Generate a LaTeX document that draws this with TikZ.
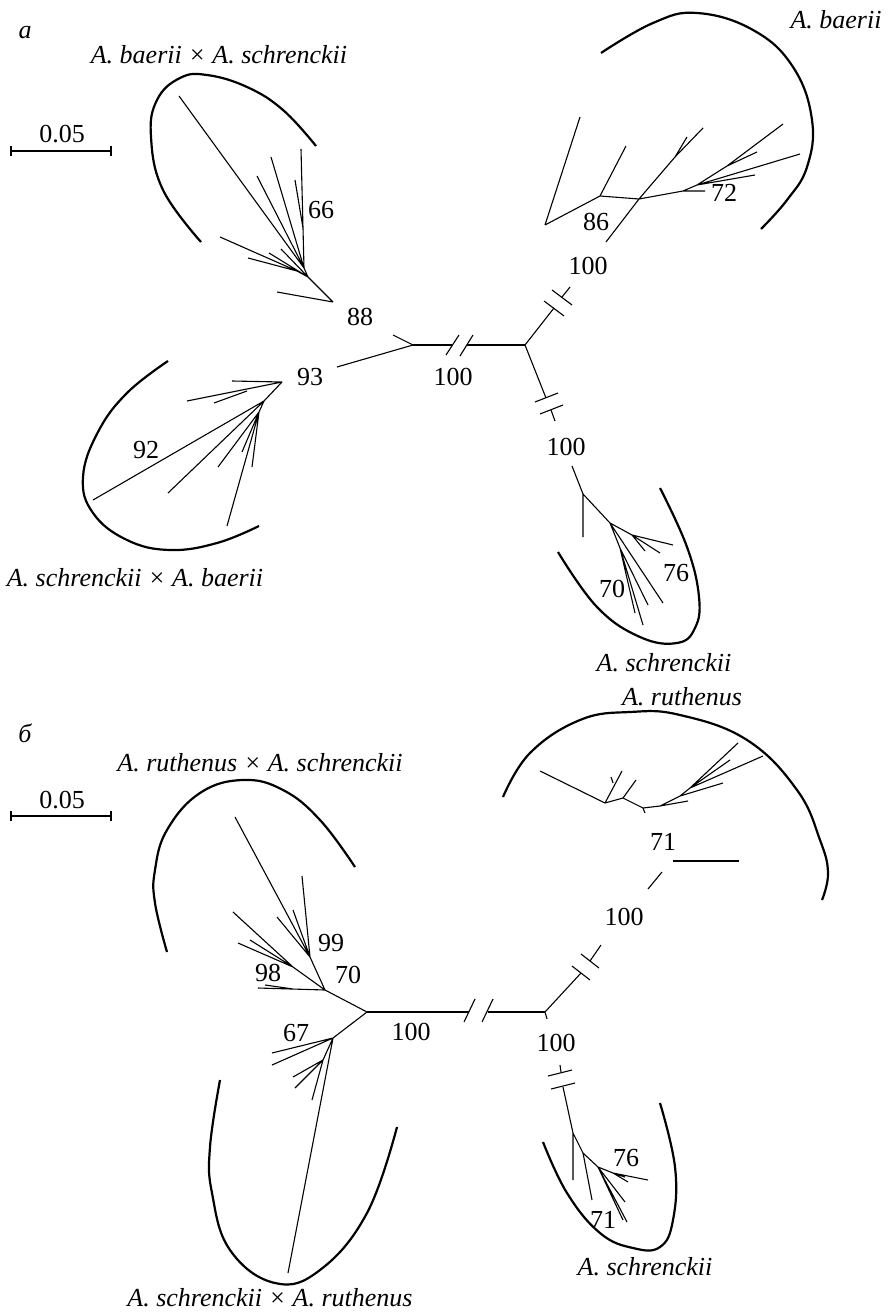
\documentclass[tikz,border=0pt]{standalone}
\usepackage{fontspec}
\setmainfont{Liberation Serif}
\begin{document}
\begin{tikzpicture}[x=1pt,y=-1pt,
  br/.style={line width=1.1pt},
  brk/.style={line width=1.1pt},
  hull/.style={line width=2.2pt},
  lab/.style={font=\fontsize{26}{30}\selectfont\itshape, inner sep=0pt},
  num/.style={font=\fontsize{26}{30}\selectfont, inner sep=0pt}]
\useasboundingbox (0,0) rectangle (890,1313);

% ================= PANEL a =================
\node[lab] (pa) at (25,33) {а};
\node[lab] (la1) at (219,55) {A. baerii × A. schrenckii};
\node[lab] (la2) at (836,20) {A. baerii};
\node[lab] (la3) at (135,578) {A. schrenckii × A. baerii};
\node[lab] (la4) at (664,663) {A. schrenckii};

% scale bar
\coordinate (sa1) at (11,151); \coordinate (sa2) at (111,151);
\draw[br] (sa1) -- (sa2);
\draw[br] (11,146) -- (11,156) (111,146) -- (111,156);
\node[num] (sca) at (62,134) {0.05};

% central part
\coordinate (aL) at (413,345); \coordinate (aC) at (525,345);
\coordinate (aH1) at (452,345); \coordinate (aH2) at (467,345);
\draw[br] (aL) -- (aH1) (aH2) -- (aC);
\draw[brk] (446,355) -- (459,335) (460,356) -- (473,335);
\node[num] (n100a) at (453,377) {100};

\coordinate (aLs) at (393,335);
\draw[br] (aL) -- (aLs);
\node[num] (n88) at (360,317) {88};
\coordinate (aLd) at (337,367);
\draw[br] (aL) -- (aLd);
\node[num] (n93) at (310,377) {93};

% upper right branch
\coordinate (aT1) at (554,308); \coordinate (aT2) at (562,297);
\coordinate (aU) at (570,287);
\draw[br] (aC) -- (aT1) (aT2) -- (aU);
\draw[brk] (544,301) -- (564,316) (552,290) -- (572,305);
\node[num] (n100b) at (588,266) {100};

% lower branch
\coordinate (aT3) at (546,398); \coordinate (aT4) at (551,410);
\coordinate (aD) at (555,421);
\draw[br] (aC) -- (aT3) (aT4) -- (aD);
\draw[brk] (535,402) -- (558,393) (540,414) -- (563,405);
\node[num] (n100c) at (566,447) {100};

% --- baerii x schrenckii clade
\coordinate (R1) at (333,302);
\coordinate (N1) at (308,277); \coordinate (Na) at (297,271);
\coordinate (N2) at (304,268); \coordinate (N3) at (303,228);
\coordinate (l1) at (277,292); \coordinate (l2) at (220,237);
\coordinate (l3) at (248,258); \coordinate (l4) at (269,253);
\coordinate (l5) at (281,249); \coordinate (l6) at (179,96);
\coordinate (l7) at (257,176); \coordinate (l8) at (271,157);
\coordinate (l9) at (295,180); \coordinate (l10) at (301,149);
\draw[br] (R1) -- (l1) (R1) -- (N1) (N1) -- (Na) (Na) -- (l2) (Na) -- (l3)
  (N1) -- (l4) (N1) -- (l5) (N1) -- (N2) (N2) -- (l6) (N2) -- (l7) (N2) -- (l8)
  (N2) -- (N3) (N3) -- (l9) (N3) -- (l10);
\node[num] (n66) at (321,210) {66};
\draw[hull] plot[smooth,tension=0.7] coordinates {(201,242) (163,190) (151,137) (157,100) (180,78) (207,75) (247,87) (283,110) (316,146)};

% --- baerii clade
\coordinate (bA) at (606,242); \coordinate (B2) at (639,199);
\coordinate (B1) at (600,196); \coordinate (B0) at (545,225);
\coordinate (B3) at (675,157); \coordinate (B4) at (683,191);
\coordinate (B5) at (697,185); \coordinate (B6) at (727,166);
\coordinate (m1) at (580,117); \coordinate (m2) at (626,146);
\coordinate (m3) at (703,128); \coordinate (m4) at (687,137);
\coordinate (m5) at (705,191); \coordinate (m6) at (755,175);
\coordinate (m7) at (800,154); \coordinate (m8) at (783,124);
\coordinate (m9) at (757,152);
\draw[br] (bA) -- (B2) (B2) -- (B1) (B1) -- (B0) (B0) -- (m1) (B1) -- (m2)
  (B2) -- (B3) (B3) -- (m3) (B3) -- (m4) (B2) -- (B4) (B4) -- (m5) (B4) -- (B5)
  (B5) -- (m6) (B5) -- (m7) (B5) -- (B6) (B6) -- (m8) (B6) -- (m9);
\node[num] (n86) at (596,222) {86};
\node[num] (n72) at (724,193) {72};
\draw[hull] plot[smooth,tension=0.7] coordinates {(601,53) (653,23) (697,13) (753,30) (793,67) (812,120) (807,167) (787,200) (761,229)};

% --- schrenckii x baerii clade
\coordinate (R2) at (282,382); \coordinate (Rb) at (247,391);
\coordinate (R3) at (264,401); \coordinate (Rc) at (259,412);
\coordinate (k1) at (232,381); \coordinate (k2) at (187,401);
\coordinate (k3) at (214,403); \coordinate (k4) at (93,500);
\coordinate (k5) at (168,493); \coordinate (k6) at (218,467);
\coordinate (k7) at (242,452); \coordinate (k8) at (252,467);
\coordinate (k9) at (227,526);
\draw[br] (R2) -- (k1) (R2) -- (k2) (Rb) -- (k3) (R2) -- (R3)
  (R3) -- (k4) (R3) -- (k5) (R3) -- (Rc) (Rc) -- (k6) (Rc) -- (k7) (Rc) -- (k8) (Rc) -- (k9);
\node[num] (n92) at (146,450) {92};
\draw[hull] plot[smooth,tension=0.7] coordinates {(168,361) (127,393) (98,432) (83,477) (93,513) (127,540) (170,550) (217,543) (259,526)};

% --- schrenckii clade (a)
\coordinate (aD2) at (572,466); \coordinate (S1) at (583,494);
\coordinate (S2) at (610,523); \coordinate (S3) at (632,535);
\coordinate (S4) at (620,548);
\coordinate (q1) at (583,537); \coordinate (q2) at (673,545);
\coordinate (q3) at (660,553); \coordinate (q4) at (645,551);
\coordinate (q5) at (663,603); \coordinate (q6) at (648,605);
\coordinate (q7) at (643,625); \coordinate (q8) at (635,613);
\draw[br] (aD2) -- (S1) (S1) -- (q1) (S1) -- (S2) (S2) -- (S3) (S3) -- (q2)
  (S3) -- (q3) (S3) -- (q4) (S2) -- (S4) (S2) -- (q5) (S4) -- (q6) (S4) -- (q7) (S4) -- (q8);
\node[num] (n76a) at (676,573) {76};
\node[num] (n70a) at (612,589) {70};
\draw[hull] plot[smooth,tension=0.7] coordinates {(558,552) (597,607) (640,637) (677,643) (695,628) (699,597) (687,547) (660,488)};

% ================= PANEL b =================
\node[lab] (pb) at (25,733) {б};
\node[lab] (lb1) at (260,763) {A. ruthenus × A. schrenckii};
\node[lab] (lb2) at (682,697) {A. ruthenus};
\node[lab] (lb3) at (270,1298) {A. schrenckii × A. ruthenus};
\node[lab] (lb4) at (645,1267) {A. schrenckii};

\coordinate (sb1) at (11,816); \coordinate (sb2) at (111,816);
\draw[br] (sb1) -- (sb2);
\draw[br] (11,811) -- (11,821) (111,811) -- (111,821);
\node[num] (scb) at (62,800) {0.05};

% central part
\coordinate (bL) at (367,1012); \coordinate (bC) at (545,1012);
\coordinate (bH1) at (469,1012); \coordinate (bH2) at (488,1012);
\draw[br] (bL) -- (bH1) (bH2) -- (bC);
\draw[brk] (464,1022) -- (475,999) (482,1022) -- (493,999);
\node[num] (n100d) at (411,1032) {100};

% up branch
\coordinate (bT1) at (581,973); \coordinate (bT2) at (590,961);
\coordinate (bU) at (601,945);
\draw[br] (bC) -- (bT1) (bT2) -- (bU);
\draw[brk] (572,966) -- (590,980) (581,954) -- (599,968);
\node[num] (n100e) at (624,917) {100};
\coordinate (bV0) at (648,889); \coordinate (bV) at (662,872);
\draw[br] (bV0) -- (bV);
\coordinate (bh1) at (673,861); \coordinate (bh2) at (739,861);
\draw[br] (bh1) -- (bh2);
\node[num] (n71a) at (663,842) {71};

% ruthenus clade
\coordinate (U1) at (605,803); \coordinate (U2) at (623,798);
\coordinate (U3) at (643,808); \coordinate (U3s) at (645,813);
\coordinate (U4) at (660,806); \coordinate (U5) at (680,796);
\coordinate (U6) at (690,788); \coordinate (Ub) at (613,783);
\coordinate (r1) at (540,771); \coordinate (r2) at (622,771);
\coordinate (r2b) at (611,777);
\coordinate (r3) at (636,780); \coordinate (r4) at (688,801);
\coordinate (r5) at (723,783); \coordinate (r6) at (738,743);
\coordinate (r7) at (730,760); \coordinate (r8) at (763,756);
\draw[br] (U1) -- (r1) (U1) -- (r2) (Ub) -- (r2b) (U1) -- (U2) (U2) -- (r3) (U2) -- (U3)
  (U3) -- (U3s) (U3) -- (U4) (U4) -- (r4) (U4) -- (U5) (U5) -- (r5) (U5) -- (U6)
  (U6) -- (r6) (U6) -- (r7) (U6) -- (r8);
\draw[hull] plot[smooth,tension=0.7] coordinates {(503,797) (530,753) (580,720) (630,712) (680,715) (747,740) (797,790) (820,840) (828,873) (822,900)};

% down branch
\coordinate (bDs) at (547,1019);
\draw[br] (bC) -- (bDs);
\node[num] (n100f) at (556,1043) {100};
\coordinate (bD1) at (560,1065); \coordinate (bD2) at (561,1072);
\draw[br] (bD1) -- (bD2);
\draw[brk] (548,1076) -- (572,1070) (551,1089) -- (575,1083);
\coordinate (bD3) at (563,1087); \coordinate (W1) at (573,1133);
\coordinate (W2) at (583,1153); \coordinate (W3) at (598,1167);
\coordinate (W4) at (613,1173);
\coordinate (w1) at (573,1180); \coordinate (w2) at (592,1200);
\coordinate (w3) at (625,1202); \coordinate (w4) at (627,1222);
\coordinate (w5) at (623,1220); \coordinate (w6) at (648,1180);
\coordinate (w7) at (628,1182); \coordinate (w8) at (625,1177);
\draw[br] (bD3) -- (W1) (W1) -- (w1) (W1) -- (W2) (W2) -- (w2) (W2) -- (W3)
  (W3) -- (w3) (W3) -- (w4) (W3) -- (w5) (W3) -- (W4) (W4) -- (w6) (W4) -- (w7) (W4) -- (w8);
\node[num] (n76b) at (626,1158) {76};
\node[num] (n71b) at (603,1220) {71};
\draw[hull] plot[smooth,tension=0.7] coordinates {(543,1142) (567,1193) (600,1233) (633,1248) (660,1247) (673,1220) (675,1167) (660,1103)};

% left clades
\coordinate (X2) at (325,990); \coordinate (Xb) at (293,989);
\coordinate (X3) at (293,967); \coordinate (X4) at (310,957);
\coordinate (X5) at (333,1038); \coordinate (X6) at (323,1060);
\coordinate (x1) at (258,988); \coordinate (x2) at (265,985);
\coordinate (x3) at (233,912); \coordinate (x4) at (238,943);
\coordinate (x5) at (250,940); \coordinate (x6) at (235,817);
\coordinate (x7) at (277,917); \coordinate (x8) at (293,910);
\coordinate (x9) at (302,876);
\coordinate (y1) at (272,1053); \coordinate (y2) at (272,1065);
\coordinate (y3) at (293,1077); \coordinate (y4) at (295,1088);
\coordinate (y5) at (312,1100); \coordinate (y6) at (288,1273);
\draw[br] (bL) -- (X2) (X2) -- (x1) (Xb) -- (x2) (X2) -- (X3) (X3) -- (x3) (X3) -- (x4) (X3) -- (x5)
  (X2) -- (X4) (X4) -- (x6) (X4) -- (x7) (X4) -- (x8) (X4) -- (x9)
  (bL) -- (X5) (X5) -- (y1) (X5) -- (y2) (X5) -- (X6) (X6) -- (y3) (X6) -- (y4) (X6) -- (y5) (X5) -- (y6);
\node[num] (n99) at (331,943) {99};
\node[num] (n70b) at (348,975) {70};
\node[num] (n98) at (268,973) {98};
\node[num] (n67) at (296,1033) {67};
\draw[hull] plot[smooth,tension=0.7] coordinates {(167,952) (155,903) (155,870) (167,830) (200,793) (243,780) (283,790) (320,820) (355,867)};
\draw[hull] plot[smooth,tension=0.7] coordinates {(220,1080) (210,1147) (212,1193) (230,1250) (275,1283) (320,1270) (367,1213) (397,1127)};
\end{tikzpicture}
\end{document}
